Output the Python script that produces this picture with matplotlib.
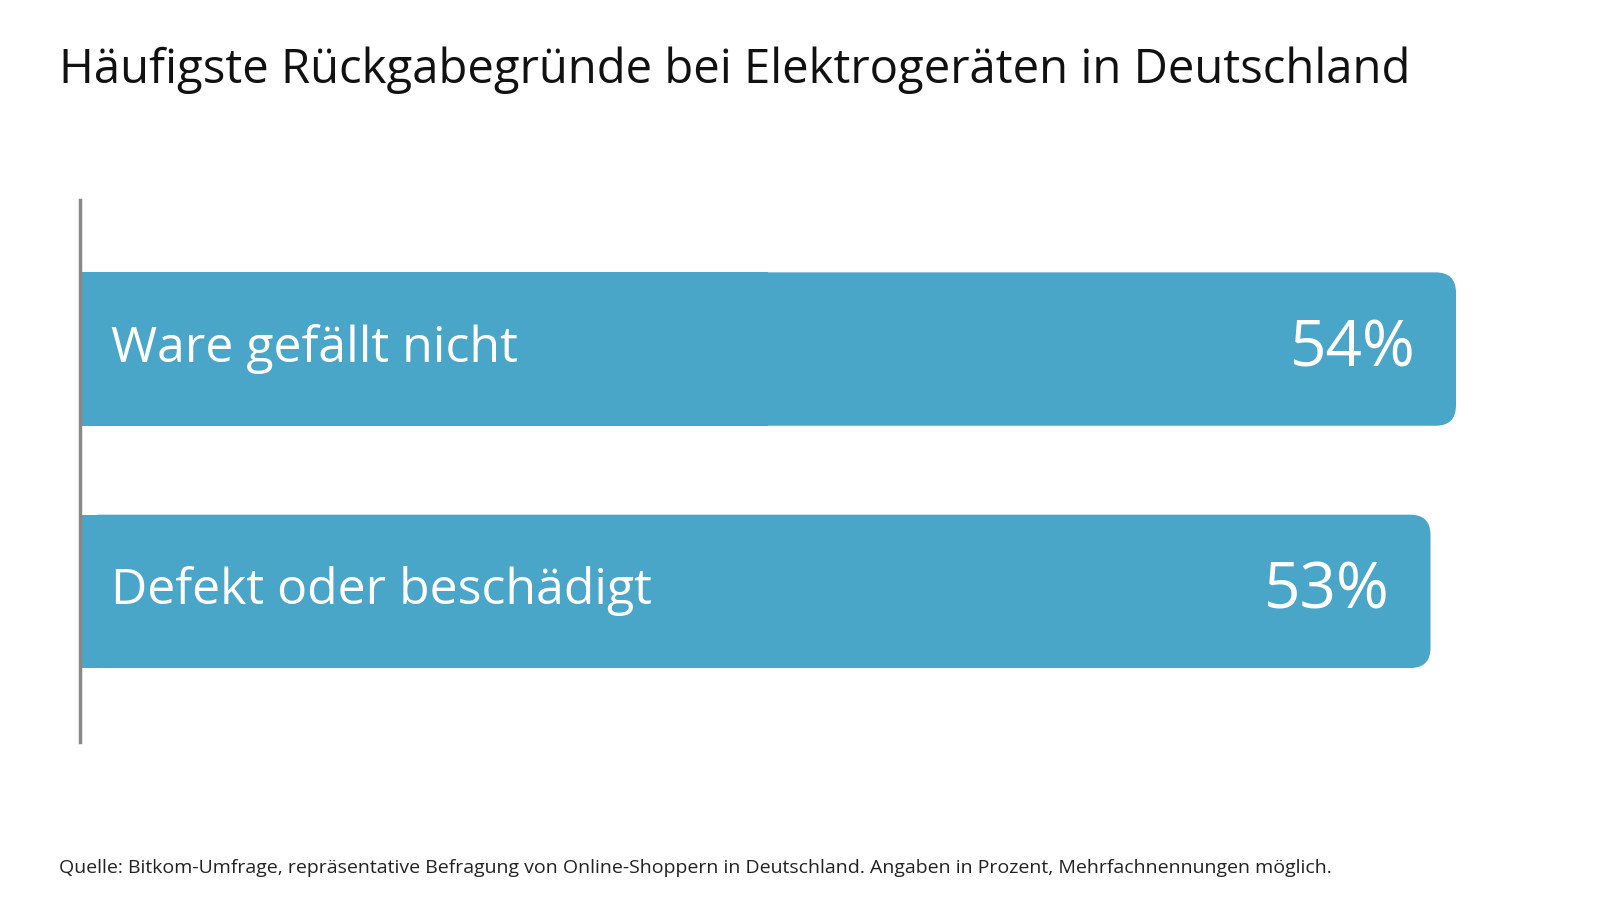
import matplotlib.pyplot as plt
from matplotlib.patches import FancyBboxPatch, Rectangle

# Data
reasons = ['Defekt oder beschädigt', 'Ware gefällt nicht']
values = [53, 54]
bar_color = '#4aa6c8'

plt.rcParams['font.family'] = ['Open Sans', 'DejaVu Sans']

fig = plt.figure(figsize=(16, 9), dpi=100)
ax = fig.add_axes([0.05, 0.176, 0.86, 0.602])
ax.set_xlim(0, 54)
ax.set_ylim(-0.62, 1.616)

h = 0.633
for i, (name, val) in enumerate(zip(reasons, values)):
    # rounded bar, left corners covered by a plain rectangle
    ax.add_patch(FancyBboxPatch((0, i - h / 2), val, h,
                                boxstyle='round,pad=0,rounding_size=0.8',
                                mutation_aspect=0.105, fc=bar_color, ec='none'))
    ax.add_patch(Rectangle((0, i - h / 2), val / 2, h, fc=bar_color, ec='none'))
    ax.text(1.2, i, name, color='white', fontsize=36, va='center', ha='left')
    ax.text(val - 1.6, i, f'{val}%', color='white', fontsize=46, va='center', ha='right')

for s in ['top', 'right', 'bottom']:
    ax.spines[s].set_visible(False)
ax.spines['left'].set_color('#888888')
ax.spines['left'].set_linewidth(2.5)
ax.set_xticks([])
ax.set_yticks([])

fig.text(0.037, 0.922, 'Häufigste Rückgabegründe bei Elektrogeräten in Deutschland',
         fontsize=34, va='center', ha='left', color='#111111')
fig.text(0.037, 0.036, 'Quelle: Bitkom-Umfrage, repräsentative Befragung von Online-Shoppern in Deutschland. '
         'Angaben in Prozent, Mehrfachnennungen möglich.',
         fontsize=14, va='center', ha='left', color='#222222')

fig.savefig('out.png')
